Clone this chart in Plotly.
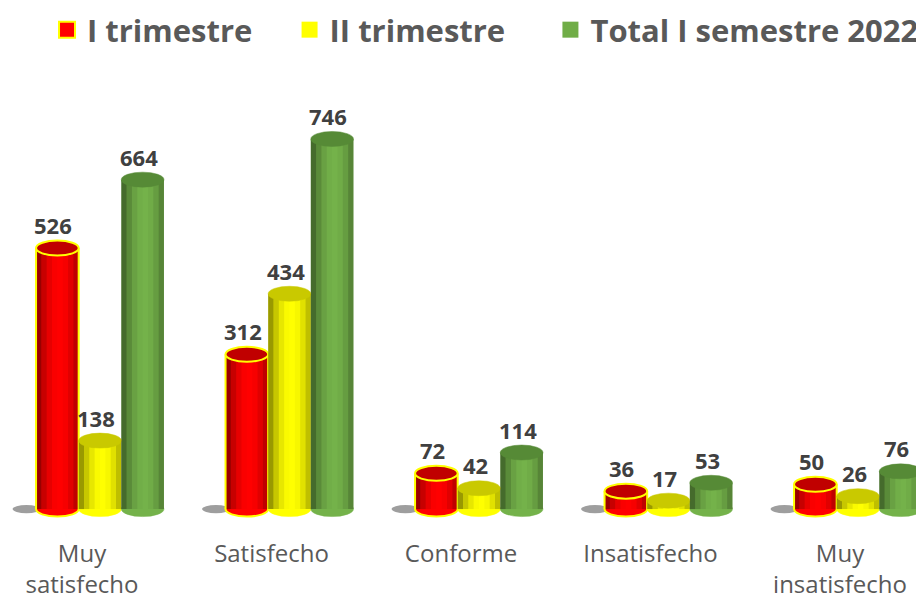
import plotly.graph_objects as go

categories = ["Muy<br>satisfecho", "Satisfecho", "Conforme", "Insatisfecho", "Muy<br>insatisfecho"]
series_names = ["I trimestre", "II trimestre", "Total I semestre 2022"]
trim1 = [526, 312, 72, 36, 50]
trim2 = [138, 434, 42, 17, 26]
total = [664, 746, 114, 53, 76]
series_values = [trim1, trim2, total]
legend_pad = ["\u00a0" * 4, "\u00a0" * 5, ""]

bar_colors = ["#FF0000", "#FFFF00", "#74B24A"]
top_colors = ["#C00000", "#C9C900", "#568A36"]
legend_colors = ["#FF0000", "#FFFF00", "#70AD47"]
edge_color = "#FFFF00"

FIG_W, FIG_H = 916, 593
BARGAP = 0.325
NS = len(series_values)
W = (1 - BARGAP) / NS           # bar width in category units
YMIN, YMAX = -20, 885
T_MARGIN, B_MARGIN = 62, 82
PLOT_H = FIG_H - T_MARGIN - B_MARGIN
PX_PER_UNIT = PLOT_H / (YMAX - YMIN)
ELL = 7.5 / PX_PER_UNIT         # half-height of ellipse in data units
X_MIN = -0.4855
X_MAX = X_MIN + FIG_W / 189.5

xidx = list(range(len(categories)))

fig = go.Figure()
for j, (name, vals) in enumerate(zip(series_names, series_values)):
    fig.add_trace(go.Bar(
        name=name, x=xidx, y=vals, showlegend=False,
        marker=dict(color=bar_colors[j], line=dict(width=0)),
        hoverinfo="skip",
    ))
for j, name in enumerate(series_names):
    fig.add_trace(go.Scatter(
        name=name + legend_pad[j], x=[None], y=[None], mode="markers",
        marker=dict(symbol="square", size=16, color=legend_colors[j],
                    line=dict(color=edge_color if j == 0 else legend_colors[j], width=2 if j == 0 else 0)),
        hoverinfo="skip",
    ))

shapes = []
annotations = []
NSTRIP = 8
for j, vals in enumerate(series_values):
    for i, v in enumerate(vals):
        xc = i + (j - (NS - 1) / 2) * W
        x0, x1 = xc - W / 2, xc + W / 2
        if j == 0:
            shapes.append(dict(type="circle", xref="x", yref="y",
                               x0=x0 - W * 0.55, x1=x0 + W * 0.1, y0=-ELL * 0.55, y1=ELL * 0.55,
                               fillcolor="rgba(40,40,40,0.45)", line=dict(width=0), layer="below"))
        shapes.append(dict(type="circle", xref="x", yref="y", x0=x0, x1=x1, y0=-ELL, y1=ELL,
                           fillcolor=bar_colors[j], layer="below",
                           line=dict(color=edge_color if j == 0 else bar_colors[j], width=2 if j == 0 else 0.5)))
        for k in range(NSTRIP):
            t = (k + 0.5) / NSTRIP
            op = 0.34 * ((t - 0.55) / 0.45) ** 2
            shapes.append(dict(type="rect", xref="x", yref="y",
                               x0=x0 + k * W / NSTRIP, x1=x0 + (k + 1) * W / NSTRIP,
                               y0=0, y1=v,
                               fillcolor=f"rgba(0,0,0,{op:.3f})", line=dict(width=0)))
        if j == 0:
            for xe in (x0, x1):
                shapes.append(dict(type="line", xref="x", yref="y", x0=xe, x1=xe, y0=0, y1=v,
                                   line=dict(color=edge_color, width=2)))
        shapes.append(dict(type="circle", xref="x", yref="y", x0=x0, x1=x1,
                           y0=v - ELL, y1=v + ELL, fillcolor=top_colors[j],
                           line=dict(color=edge_color if j == 0 else top_colors[j],
                                     width=2 if j == 0 else 0.5)))
        annotations.append(dict(x=xc, y=v, xref="x", yref="y", text=f"<b>{v}</b>",
                                showarrow=False, yshift=23, xshift=-4,
                                font=dict(family="Open Sans", size=22, color="#404040")))

fig.update_layout(
    width=FIG_W, height=FIG_H,
    margin=dict(l=0, r=0, t=T_MARGIN, b=B_MARGIN, autoexpand=False),
    paper_bgcolor="white", plot_bgcolor="white",
    barmode="group", bargap=BARGAP, bargroupgap=0,
    shapes=shapes, annotations=annotations,
    showlegend=True,
    legend=dict(orientation="h", xref="paper", yref="paper", x=0.0426, y=1.1492,
                xanchor="left", yanchor="top",
                font=dict(family="Open Sans", size=31, color="#595959", weight="bold"),
                itemclick=False, itemdoubleclick=False),
    xaxis=dict(tickmode="array", tickvals=xidx, ticktext=categories, range=[X_MIN, X_MAX],
               showgrid=False, zeroline=False, showline=False, ticks="", automargin=False,
               tickfont=dict(family="Open Sans", size=24, color="#595959"),
               ticklabelshift=-18, ticklabelstandoff=18),
    yaxis=dict(range=[YMIN, YMAX], visible=False, showgrid=False, zeroline=False, automargin=False),
)

fig.write_html("out.html")
